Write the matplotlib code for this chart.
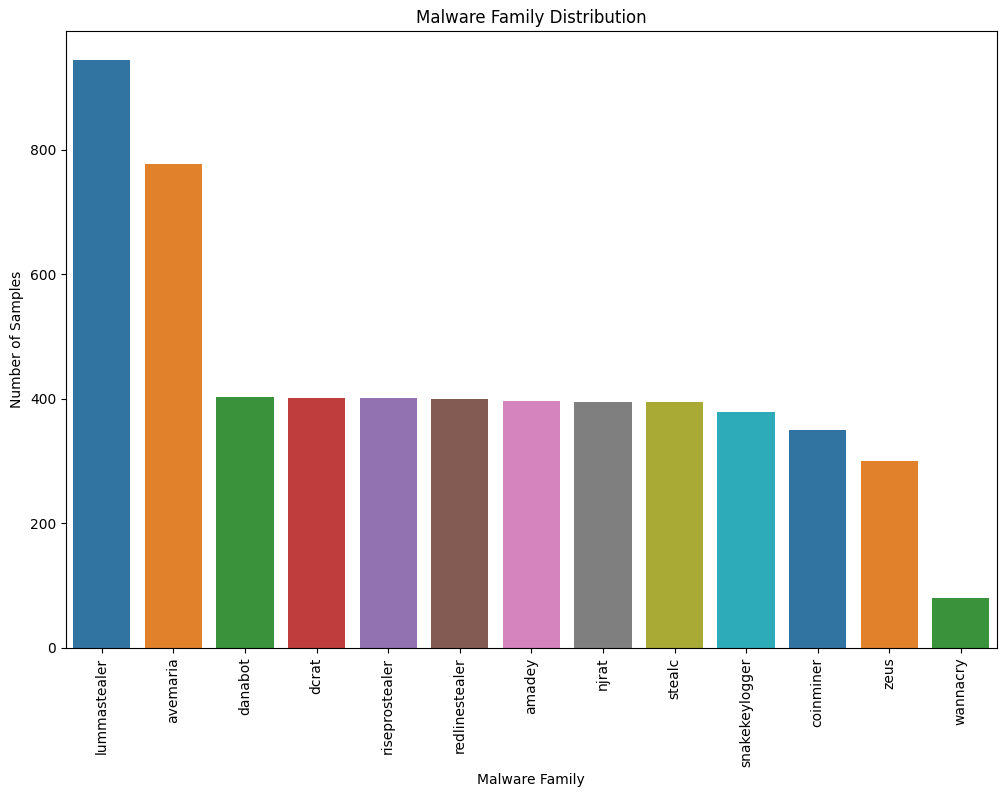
import matplotlib
matplotlib.use("Agg")
import matplotlib.pyplot as plt
import seaborn as sns

# malware family counts
families = ['lummastealer', 'avemaria', 'danabot', 'dcrat', 'riseprostealer',
            'redlinestealer', 'amadey', 'njrat', 'stealc', 'snakekeylogger',
            'coinminer', 'zeus', 'wannacry']
counts = [943, 776, 403, 401, 401, 400, 397, 395, 395, 379, 350, 300, 80]

fig = plt.figure(figsize=(10.05, 7.96), dpi=100)
ax = fig.add_axes([0.0657, 0.186, 0.926, 0.775])
sns.barplot(x=families, y=counts, hue=families, palette=sns.color_palette('tab10', len(families)),
            legend=False, ax=ax)
ax.set_title('Malware Family Distribution')
ax.set_xlabel('Malware Family')
ax.set_ylabel('Number of Samples')
ax.set_yticks([0, 200, 400, 600, 800])
plt.setp(ax.get_xticklabels(), rotation=90)

fig.savefig('out.png', dpi=100)
